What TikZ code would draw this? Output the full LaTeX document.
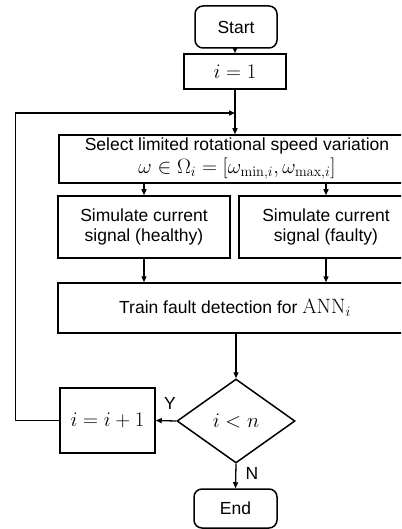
\documentclass[tikz,border=0pt]{standalone}
\usepackage[no-math]{fontspec}
\setmainfont{Liberation Sans}
\usetikzlibrary{shapes.geometric,arrows.meta}
\newcommand{\mth}[1]{{\fontsize{20}{20}\selectfont$#1$}}
\begin{document}
\begin{tikzpicture}[x=1pt,y=-1pt,
  every node/.style={font=\fontsize{17.5}{20}\selectfont},
  box/.style={draw,line width=1.5pt,inner sep=0pt,align=center},
  term/.style={box,rounded corners=8pt},
  dec/.style={draw,line width=1.5pt,diamond,inner sep=0pt,aspect=1.4},
  arr/.style={line width=1.3pt,-{Triangle[length=6pt,width=5pt]}},
  lbl/.style={inner sep=0pt}]
\clip (0,0) rectangle (401,529);
\fill[white] (0,0) rectangle (401,529);
\node[term,minimum width=82pt,minimum height=42pt] (start) at (236,27) {Start};
\node[box,minimum width=102pt,minimum height=35pt] (init) at (235,71.5) {\mth{i=1}};
\node[box,minimum width=356pt,minimum height=48pt] (select) at (237,159)
  {Select limited rotational speed variation\\[3pt]\mth{\omega\in\Omega_i=[\omega_{\mathrm{min},i},\omega_{\mathrm{max},i}]}};
\node[box,minimum width=172pt,minimum height=62pt] (simH) at (144,227) {Simulate current\\signal (healthy)};
\node[box,minimum width=174pt,minimum height=62pt] (simF) at (326,227) {Simulate current\\signal (faulty)};
\node[box,minimum width=354pt,minimum height=50pt] (train) at (235,308) {Train fault detection for \mth{\mathrm{ANN}_i}};
\node[dec,minimum width=118pt,minimum height=84pt] (cond) at (236,421) {\mth{i<n}};
\node[box,minimum width=95pt,minimum height=65pt] (inc) at (107.5,420.5) {\mth{i=i+1}};
\node[term,minimum width=83pt,minimum height=39pt] (end) at (235.5,508.5) {End};
\coordinate (join) at (235,113);
\draw[arr] (start.south -| init.north) -- (init.north);
\draw[arr] (init.south) -- (init.south |- select.north);
\draw[arr] (simH.north |- select.south) -- (simH.north);
\draw[arr] (simF.north |- select.south) -- (simF.north);
\draw[arr] (simH.south) -- (simH.south |- train.north);
\draw[arr] (simF.south) -- (simF.south |- train.north);
\draw[arr] (cond.north |- train.south) -- (cond.north);
\draw[arr] (cond.west) -- (inc.east);
\draw[arr] (cond.south) -- (end.north);
\draw[arr] (inc.west) -- ++(-44,0) |- (join);
\node[lbl] (yl) at (170,403) {Y};
\node[lbl] (nl) at (252,473) {N};
\end{tikzpicture}
\end{document}
